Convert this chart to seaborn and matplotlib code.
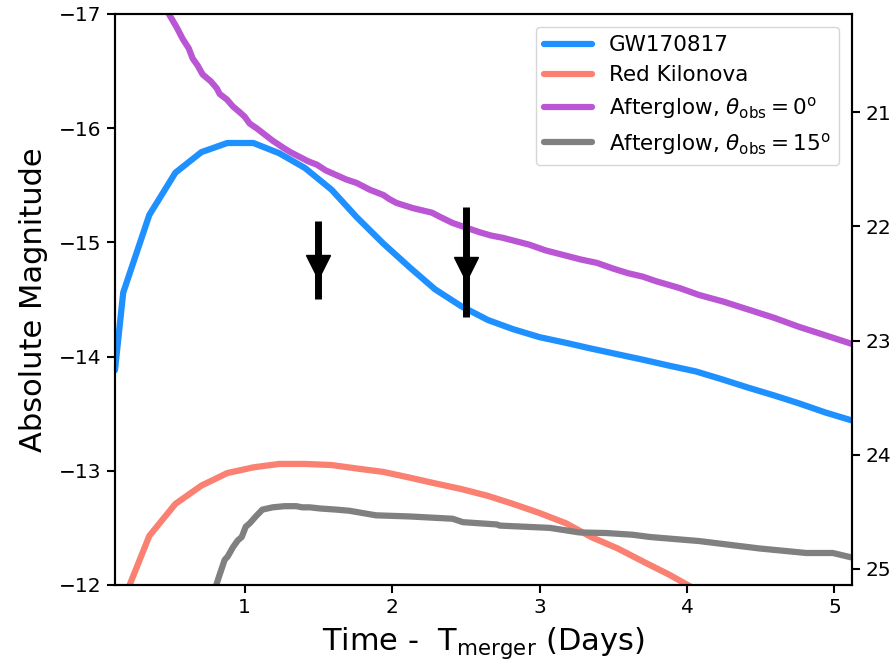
import matplotlib
matplotlib.use("Agg")
import matplotlib.pyplot as plt
import numpy as np
import pandas as pd
import seaborn as sns

# ---- light curves (absolute magnitude vs. days since merger) ----
t_gw = [0.12, 0.176, 0.353, 0.53, 0.706, 0.882, 1.059, 1.235, 1.41, 1.59, 1.76,
        1.94, 2.12, 2.29, 2.47, 2.65, 2.82, 3.0, 3.18, 3.35, 3.53, 3.71, 3.88,
        4.06, 4.24, 4.41, 4.59, 4.76, 4.94, 5.12]
m_gw = [-13.88, -14.56, -15.24, -15.61, -15.79, -15.87, -15.87, -15.78, -15.65,
        -15.46, -15.22, -14.99, -14.78, -14.59, -14.44, -14.32, -14.24, -14.17,
        -14.12, -14.07, -14.02, -13.97, -13.92, -13.87, -13.80, -13.73, -13.66,
        -13.59, -13.51, -13.44]

t_red = [0.176, 0.353, 0.53, 0.706, 0.882, 1.059, 1.235, 1.41, 1.59, 1.76, 1.94,
         2.12, 2.29, 2.47, 2.65, 2.82, 3.0, 3.18, 3.35, 3.53, 3.71, 3.88, 4.06, 4.24]
m_red = [-11.86, -12.43, -12.71, -12.87, -12.98, -13.03, -13.06, -13.06, -13.05,
         -13.02, -12.99, -12.94, -12.89, -12.84, -12.78, -12.71, -12.63, -12.54,
         -12.42, -12.32, -12.20, -12.09, -11.96, -11.84]

t_ag0 = [0.12, 0.3, 0.49, 0.54, 0.58, 0.62, 0.647, 0.68, 0.715, 0.77, 0.81, 0.83,
         0.88, 0.92, 0.966, 1.0, 1.034, 1.08, 1.12, 1.19, 1.26, 1.31, 1.37, 1.43,
         1.49, 1.55, 1.62, 1.69, 1.76, 1.85, 1.94, 1.98, 2.03, 2.14, 2.27, 2.33,
         2.41, 2.5, 2.59, 2.67, 2.75, 2.84, 2.93, 3.04, 3.16, 3.28, 3.39, 3.5,
         3.60, 3.7, 3.79, 3.95, 4.08, 4.25, 4.42, 4.59, 4.76, 4.93, 5.12]
m_ag0 = [-18.4, -17.5, -16.99, -16.88, -16.78, -16.70, -16.61, -16.55, -16.47,
         -16.41, -16.35, -16.30, -16.25, -16.19, -16.14, -16.10, -16.04, -16.00,
         -15.96, -15.89, -15.83, -15.79, -15.75, -15.71, -15.68, -15.63, -15.59,
         -15.55, -15.52, -15.46, -15.415, -15.38, -15.345, -15.30, -15.26, -15.22,
         -15.17, -15.13, -15.09, -15.06, -15.04, -15.01, -14.98, -14.93, -14.89,
         -14.85, -14.82, -14.77, -14.73, -14.70, -14.66, -14.60, -14.54, -14.48,
         -14.41, -14.34, -14.26, -14.19, -14.11]

t_ag15 = [0.797, 0.83, 0.864, 0.885, 0.92, 0.953, 0.98, 1.007, 1.034, 1.075, 1.12,
          1.19, 1.27, 1.35, 1.39, 1.44, 1.51, 1.62, 1.71, 1.80, 1.89, 2.12, 2.41,
          2.48, 2.71, 2.73, 3.07, 3.27, 3.45, 3.63, 3.75, 4.08, 4.49, 4.81, 4.99,
          5.12]
m_ag15 = [-11.96, -12.09, -12.22, -12.25, -12.33, -12.39, -12.42, -12.51, -12.54,
          -12.60, -12.66, -12.68, -12.69, -12.69, -12.68, -12.68, -12.67, -12.66,
          -12.65, -12.63, -12.61, -12.60, -12.58, -12.55, -12.53, -12.52, -12.50,
          -12.46, -12.455, -12.44, -12.42, -12.385, -12.32, -12.28, -12.28, -12.24]

# ---- upper limits (marker value and extent of the bar) ----
lim_t = [1.5, 2.5]
lim_mag = [-14.78, -14.77]
lim_top = [-15.19, -15.31]
lim_bottom = [-14.50, -14.35]

distance_modulus = 37.14
right_ticks = [21, 22, 23, 24, 25]

sns.set_style("ticks")
plt.rcParams["font.family"] = ["DejaVu Sans"]
plt.rcParams["mathtext.fontset"] = "dejavusans"
for key in ("text.color", "axes.labelcolor", "xtick.color", "ytick.color",
            "axes.edgecolor"):
    plt.rcParams[key] = "black"

fig = plt.figure(figsize=(8.96, 6.64), dpi=100)
ax = fig.add_axes([0.1283, 0.119, 0.8227, 0.860])

lw = 4.5
series = [
    (t_gw, m_gw, "#1E90FF", "GW170817"),
    (t_red, m_red, "#FA8072", "Red Kilonova"),
    (t_ag0, m_ag0, "#BA55D3", r"Afterglow, $\theta_{\rm obs} = 0^{\rm o}$"),
    (t_ag15, m_ag15, "#808080", r"Afterglow, $\theta_{\rm obs} = 15^{\rm o}$"),
]
for t, m, c, lab in series:
    df = pd.DataFrame({"t": t, "mag": m})
    sns.lineplot(data=df, x="t", y="mag", ax=ax, color=c, lw=lw, label=lab,
                 sort=False)

lt = np.array(lim_t)
lm = np.array(lim_mag)
yerr = [lm - np.array(lim_top), np.array(lim_bottom) - lm]
ax.errorbar(lt, lm, yerr=yerr, fmt="v", color="black", ms=17,
            elinewidth=5, capsize=0)

ax.set_xlim(0.12, 5.12)
ax.set_ylim(-12, -17)
ax.set_xticks([1, 2, 3, 4, 5])
ax.set_yticks([-17, -16, -15, -14, -13, -12])
ax.set_xlabel(r"Time -  T$_{\rm merger}$ (Days)", fontsize=22, labelpad=6)
ax.set_ylabel("Absolute Magnitude", fontsize=22, labelpad=8)
ax.tick_params(labelsize=14.5, width=1.5, length=6, direction="out")

ax2 = ax.twinx()
ax2.set_ylim(-12 + distance_modulus, -17 + distance_modulus)
ax2.set_yticks(right_ticks)
ax2.tick_params(labelsize=14.5, width=1.5, length=6, direction="out")

for a in (ax, ax2):
    for s in a.spines.values():
        s.set_visible(True)
        s.set_linewidth(1.5)
        s.set_color("black")

leg = ax.legend(loc="upper right", fontsize=15.5, frameon=True,
                handlelength=2.2, borderaxespad=0.6, labelspacing=0.45)
leg.get_frame().set_edgecolor("#cccccc")
for h in leg.get_lines():
    h.set_linewidth(lw)

fig.savefig("out.png", dpi=100)
